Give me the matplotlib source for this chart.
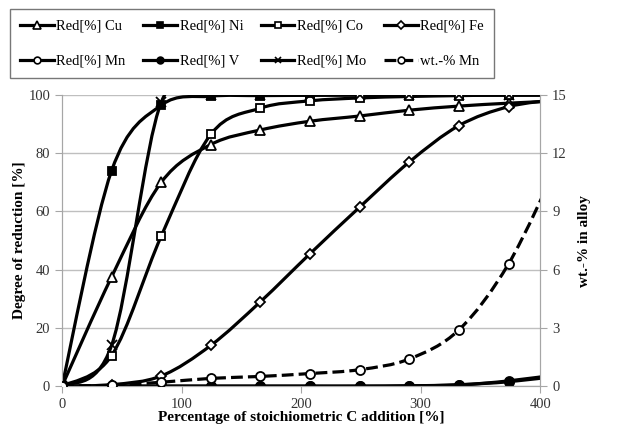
import matplotlib.pyplot as plt
import numpy as np
from matplotlib.path import Path
from matplotlib.patches import PathPatch
from matplotlib.lines import Line2D

plt.rcParams['font.family'] = ['Liberation Serif', 'DejaVu Serif']

# stoichiometric C addition [%]
c_add = [0, 41.5, 83, 124.5, 166, 207.5, 249, 290.5, 332, 373.5, 415]

red_cu = [0, 37.5, 70, 83, 88, 91, 92.8, 94.8, 96.2, 97.2, 98]
red_ni = [0, 74, 96.5, 99.6, 99.8, 99.9, 100, 100, 100, 100, 100]
red_co = [0, 10.5, 51.5, 86.5, 95.5, 98, 99, 99.5, 99.8, 100, 100]
red_fe = [0, 0.5, 3.5, 14, 29, 45.5, 61.5, 77, 89.5, 96, 98.5]
red_mn = [0, 0, 0, 0, 0, 0, 0, 0.1, 0.5, 1.5, 3.5]
red_v = [0, 0, 0, 0, 0, 0, 0, 0.1, 0.4, 1.8, 4]
red_mo = [0, 14, 97.5, 100, 100, 100, 100, 100, 100, 100, 100]
wt_mn = [0, 0.05, 0.2, 0.4, 0.5, 0.65, 0.85, 1.4, 2.9, 6.3, 11.5]


def smooth_path(x, y):
    # Excel-style smoothed line: cubic bezier through the points
    p = np.column_stack([x, y]).astype(float)
    n = len(p)
    verts = [p[0]]
    codes = [Path.MOVETO]
    for i in range(n - 1):
        p0 = p[i - 1] if i > 0 else p[i]
        p3 = p[i + 2] if i + 2 < n else p[i + 1]
        c1 = p[i] + (p[i + 1] - p0) / 6
        c2 = p[i + 1] - (p3 - p[i]) / 6
        verts += [c1, c2, p[i + 1]]
        codes += [Path.CURVE4] * 3
    return Path(verts, codes)


fig = plt.figure(figsize=(6.26, 4.30), dpi=100)
ax1 = fig.add_axes([0.099, 0.102, 0.764, 0.677])
ax2 = ax1.twinx()

lw = 2.3
series = [
    (ax1, red_cu, '^', 'white', '-', 'Red[%] Cu', 7),
    (ax1, red_ni, 's', 'black', '-', 'Red[%] Ni', 6),
    (ax1, red_co, 's', 'white', '-', 'Red[%] Co', 6),
    (ax1, red_fe, 'D', 'white', '-', 'Red[%] Fe', 5.5),
    (ax1, red_mn, 'o', 'white', '-', 'Red[%] Mn', 6.5),
    (ax1, red_v, 'o', 'black', '-', 'Red[%] V', 6.5),
    (ax1, red_mo, 'x', 'black', '-', 'Red[%] Mo', 6.5),
    (ax2, wt_mn, 'o', 'white', '--', 'wt.-% Mn', 6.5),
]

handles = {}
for ax, y, mk, fc, ls, label, ms in series:
    ax.add_patch(PathPatch(smooth_path(c_add, y), fill=False, edgecolor='black',
                           lw=lw, linestyle=ls, zorder=3))
    ax.plot(c_add, y, linestyle='none', marker=mk, markersize=ms,
            markerfacecolor=fc, markeredgecolor='black', markeredgewidth=1.3,
            zorder=4)
    handles[label] = Line2D([], [], color='black', lw=lw, linestyle=ls, marker=mk,
                            markersize=ms * 0.75, markerfacecolor=fc,
                            markeredgecolor='black', markeredgewidth=1.2)

grey = '#a6a6a6'
ax1.set_xlim(0, 400)
ax1.set_ylim(0, 100)
ax2.set_ylim(0, 15)
ax1.set_xticks([0, 100, 200, 300, 400])
ax1.set_yticks(np.arange(0, 101, 20))
ax2.set_yticks(np.arange(0, 16, 3))
ax1.grid(axis='y', color='#bfbfbf', lw=1)
ax1.set_axisbelow(True)

for ax in (ax1, ax2):
    ax.spines['top'].set_visible(False)
    for s in ('left', 'right', 'bottom'):
        ax.spines[s].set_color(grey)
    ax.tick_params(colors=grey, labelcolor='#333333', labelsize=10.5, length=5)

ax1.set_xlabel('Percentage of stoichiometric C addition [%]', fontsize=11,
               fontweight='bold', labelpad=0)
ax1.set_ylabel('Degree of reduction [%]', fontsize=11, fontweight='bold', labelpad=2)
ax2.set_ylabel('wt.-% in alloy', fontsize=11, fontweight='bold', labelpad=8)

order = ['Red[%] Cu', 'Red[%] Mn', 'Red[%] Ni', 'Red[%] V',
         'Red[%] Co', 'Red[%] Mo', 'Red[%] Fe', 'wt.-% Mn']
leg = fig.legend([handles[k] for k in order], order, loc='upper left',
                 bbox_to_anchor=(0.004, 0.995), ncol=4, fontsize=10.5,
                 frameon=True, fancybox=False, edgecolor='#555555',
                 handlelength=2.3, handletextpad=0.2, columnspacing=1.2,
                 labelspacing=1.5, borderpad=0.7)
leg.get_frame().set_linewidth(1)

fig.savefig('out.png', dpi=100)
